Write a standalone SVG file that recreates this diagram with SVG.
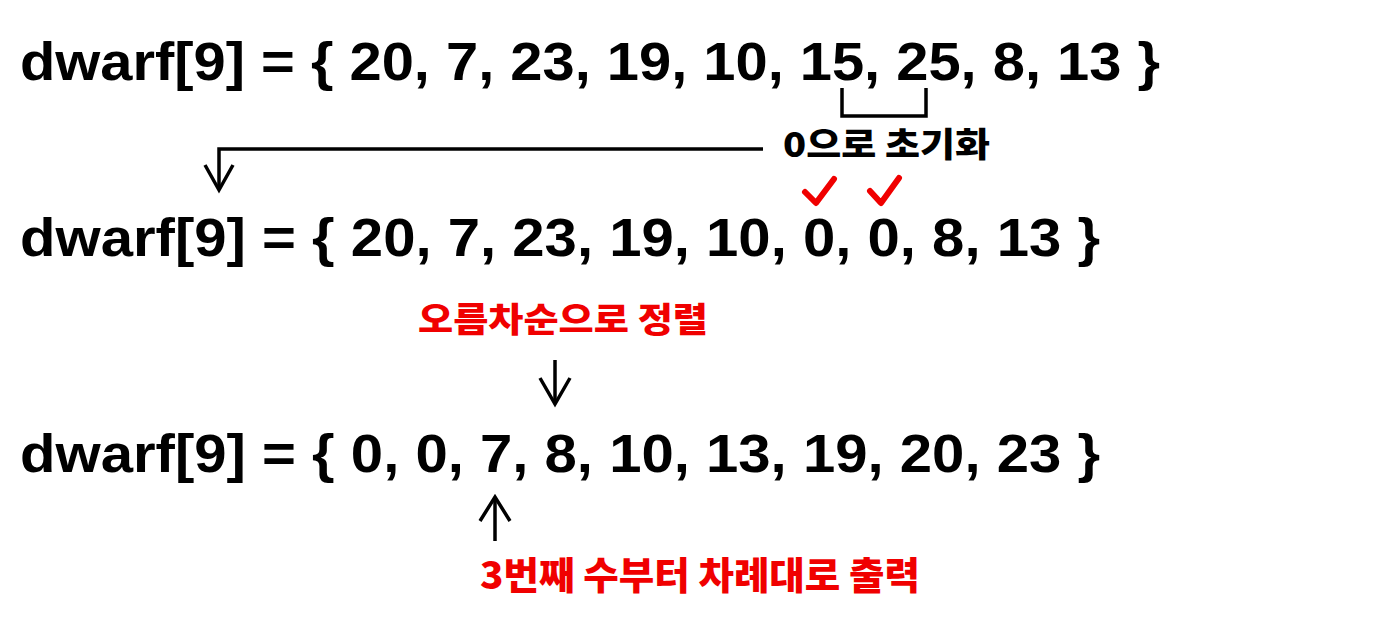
<svg xmlns="http://www.w3.org/2000/svg" width="1400" height="640" viewBox="0 0 1400 640">
<style>
.code{font-family:"Liberation Sans",Arial,sans-serif;font-weight:bold;font-size:54px;fill:#000}
.ko{font-family:"Noto Sans CJK KR","Liberation Sans",sans-serif;font-weight:900;fill:#000}
.red{fill:#f00000}
.ln{fill:none;stroke:#000;stroke-width:3.5;stroke-linecap:butt;stroke-linejoin:miter}
.chk{fill:none;stroke:#f00000;stroke-width:6;stroke-linecap:round;stroke-linejoin:round}
</style>
<rect width="1400" height="640" fill="#fff"/>
<g id="array-initial">
<text class="code" x="20" y="80" textLength="1140" lengthAdjust="spacingAndGlyphs">dwarf[9] = { 20, 7, 23, 19, 10, 15, 25, 8, 13 }</text>
</g>
<g id="label-init">
<text class="ko" x="783" y="157" font-size="34" textLength="207" lengthAdjust="spacingAndGlyphs">0으로 초기화</text>
</g>
<g id="array-zeroed">
<text class="code" x="20" y="256" textLength="1080" lengthAdjust="spacingAndGlyphs">dwarf[9] = { 20, 7, 23, 19, 10, 0, 0, 8, 13 }</text>
</g>
<g id="checks">
<path class="chk" d="M805,192 L816,203 L834,179"/>
<path class="chk" d="M870,191 L881,203 L899,178"/>
</g>
<g id="label-sort">
<text class="ko red" x="418" y="332" font-size="34" textLength="290" lengthAdjust="spacingAndGlyphs">오름차순으로 정렬</text>
</g>
<g id="array-sorted">
<text class="code" x="20" y="472" textLength="1080" lengthAdjust="spacingAndGlyphs">dwarf[9] = { 0, 0, 7, 8, 10, 13, 19, 20, 23 }</text>
</g>
<g id="label-print">
<text class="ko red" x="480" y="589" font-size="38" textLength="440" lengthAdjust="spacingAndGlyphs">3번째 수부터 차례대로 출력</text>
</g>
<g id="connectors">
<path class="ln" d="M842,88 L842,116 L926,116 L926,88"/>
<path class="ln" d="M763,149 L219,149 L219,190"/>
<path class="ln" d="M205,165 L219,190 L233,165"/>
<path class="ln" d="M555,360 L555,404"/>
<path class="ln" d="M540,378 L555,404 L570,378"/>
<path class="ln" d="M495,541 L495,497"/>
<path class="ln" d="M480,521 L495,497 L510,521"/>
</g>
</svg>
